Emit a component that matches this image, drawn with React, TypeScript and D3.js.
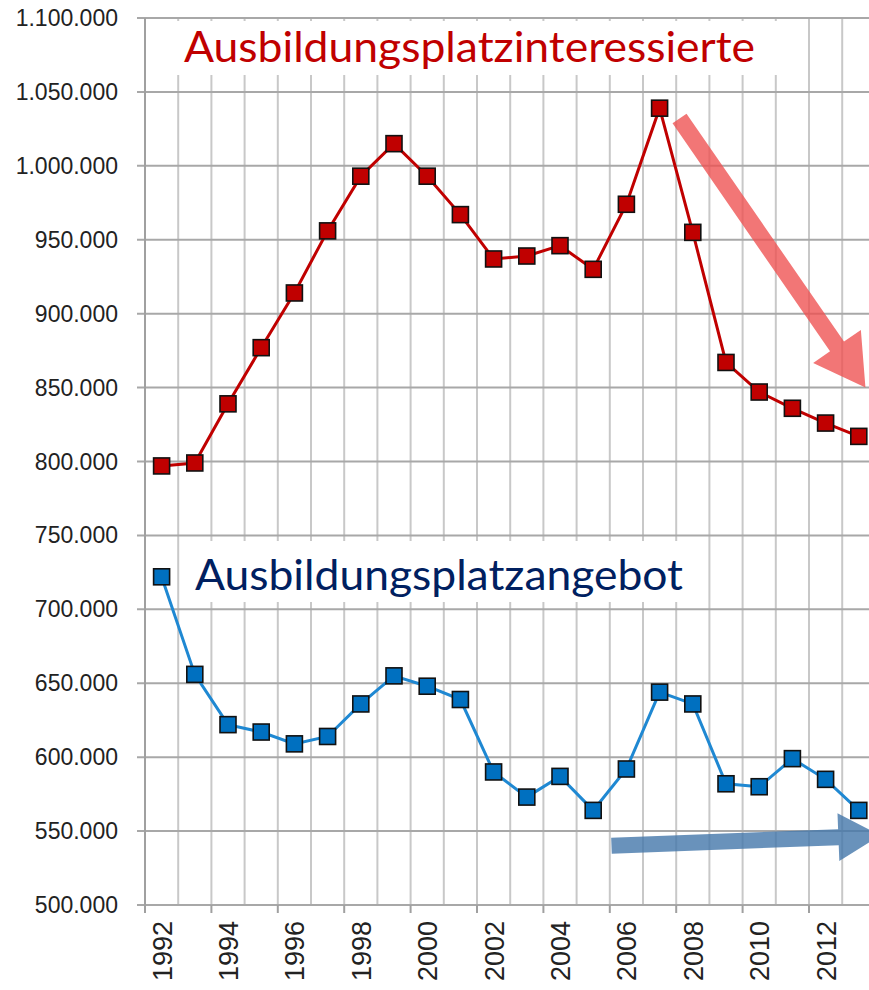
import React from "react";
import * as d3 from "d3";

const YEARS = d3.range(1992, 2014);
const INTERESSIERTE = [797, 799, 839, 877, 914, 956, 993, 1015, 993, 967, 937, 939, 946, 930, 974, 1039, 955, 867, 847, 836, 826, 817].map(v => v * 1000);
const ANGEBOT = [722, 656, 622, 617, 609, 614, 636, 655, 648, 639, 590, 573, 587, 564, 592, 644, 636, 582, 580, 599, 585, 564].map(v => v * 1000);
const Y_TICKS = d3.range(500000, 1100001, 50000);
const LABEL_YEARS = YEARS.filter(y => y % 2 === 0 && y <= 2012);

// trend arrows, in data space (fractional year, value)
const RED_ARROW = [{ year: 2007.6, value: 1032000 }, { year: 2013.2, value: 850000 }];
const BLUE_ARROW = [{ year: 2005.55, value: 540000 }, { year: 2013.65, value: 547000 }];

const W = 869, H = 990;
const margin = { top: 18, left: 145, bottom: 85 };
const bandW = 33.2;

const de = d3.formatLocale({ decimal: ",", thousands: ".", grouping: [3], currency: ["", "€"] });
const fmt = de.format(",");

function arrowPath(x1: number, y1: number, x2: number, y2: number, shaft: number, headW: number, headL: number) {
  const dx = x2 - x1, dy = y2 - y1;
  const len = Math.hypot(dx, dy);
  const ux = dx / len, uy = dy / len;
  const nx = -uy, ny = ux;
  const bx = x2 - ux * headL, by = y2 - uy * headL;
  const pts = [
    [x1 + nx * shaft / 2, y1 + ny * shaft / 2],
    [bx + nx * shaft / 2, by + ny * shaft / 2],
    [bx + nx * headW / 2, by + ny * headW / 2],
    [x2, y2],
    [bx - nx * headW / 2, by - ny * headW / 2],
    [bx - nx * shaft / 2, by - ny * shaft / 2],
    [x1 - nx * shaft / 2, y1 - ny * shaft / 2],
  ];
  return "M" + pts.map(p => p.join(",")).join("L") + "Z";
}

export default function App() {
  const x = d3.scaleBand<number>().domain(YEARS).range([margin.left, margin.left + bandW * YEARS.length]).padding(0);
  const cx = (yr: number) => (x(yr) as number) + x.bandwidth() / 2;
  const xLin = d3.scaleLinear().domain([1992, 2013]).range([cx(1992), cx(2013)]);
  const y = d3.scaleLinear().domain([500000, 1100000]).range([H - margin.bottom, margin.top]);

  const line = d3.line<number>().x((_, i) => cx(YEARS[i])).y(d => y(d));
  const bottom = y(500000);

  const series = [
    { data: INTERESSIERTE, line: "#c00000", fill: "#c00000" },
    { data: ANGEBOT, line: "#1f88d2", fill: "#0070c0" },
  ];

  const red = RED_ARROW.map(p => [xLin(p.year), y(p.value)]);
  const blue = BLUE_ARROW.map(p => [xLin(p.year), y(p.value)]);

  return (
    <svg width={W} height={H} style={{ position: "absolute", left: 0, top: 0, background: "#fff" }}>
      {/* vertical grid at band boundaries */}
      {YEARS.map(yr => (
        <line key={"v" + yr} x1={(x(yr) as number) + bandW} x2={(x(yr) as number) + bandW} y1={margin.top} y2={bottom} stroke="#c8c8c8" strokeWidth={2} />
      ))}
      {/* horizontal grid */}
      {Y_TICKS.map(t => (
        <line key={"h" + t} x1={margin.left - 8} x2={W} y1={y(t)} y2={y(t)} stroke="#a8a8a8" strokeWidth={2} />
      ))}
      {/* left axis */}
      <line x1={margin.left} x2={margin.left} y1={margin.top} y2={bottom + 8} stroke="#a0a0a0" strokeWidth={2} />
      {/* x ticks every 2 years */}
      {LABEL_YEARS.concat([2014]).map(yr => {
        const xx = yr === 2014 ? margin.left + bandW * 22 : (x(yr) as number);
        return <line key={"t" + yr} x1={xx} x2={xx} y1={bottom} y2={bottom + 8} stroke="#a0a0a0" strokeWidth={2} />;
      })}
      {Y_TICKS.map(t => (
        <text key={"yl" + t} x={118} y={y(t)} dy="0.35em" textAnchor="end" fontFamily="'Liberation Sans', Arial, sans-serif" fontSize={23} fill="#222">
          {fmt(t)}
        </text>
      ))}
      {LABEL_YEARS.map(yr => (
        <text key={"xl" + yr} transform={`translate(${cx(yr) + 10},${bottom + 16}) rotate(-90)`} textAnchor="end" fontFamily="'Liberation Sans', Arial, sans-serif" fontSize={27} fill="#222">
          {yr}
        </text>
      ))}

      {/* label boxes */}
      <rect x={margin.left + 1} y={21} width={655} height={54} fill="#fff" />
      <text x={184} y={62} fontFamily="Lato, 'Open Sans', sans-serif" fontSize={42} fill="#c00000" textLength={571} lengthAdjust="spacingAndGlyphs">
        Ausbildungsplatzinteressierte
      </text>
      <rect x={180} y={541} width={520} height={61} fill="#fff" />
      <text x={195} y={590} fontFamily="Lato, 'Open Sans', sans-serif" fontSize={42} fill="#002060" textLength={488} lengthAdjust="spacingAndGlyphs">
        Ausbildungsplatzangebot
      </text>

      {series.map((s, si) => (
        <g key={"s" + si}>
          <path d={line(s.data) || ""} fill="none" stroke={s.line} strokeWidth={3} />
          {s.data.map((v, i) => (
            <rect key={i} x={cx(YEARS[i]) - 8} y={y(v) - 8} width={16} height={16} fill={s.fill} stroke="#111" strokeWidth={1.6} />
          ))}
        </g>
      ))}

      {/* trend arrows */}
      <path d={arrowPath(red[0][0], red[0][1], red[1][0], red[1][1], 17, 58, 50)} fill="#ee5050" fillOpacity={0.78} />
      <path d={arrowPath(blue[0][0], blue[0][1], blue[1][0], blue[1][1], 16, 48, 42)} fill="#4477aa" fillOpacity={0.8} />
    </svg>
  );
}
